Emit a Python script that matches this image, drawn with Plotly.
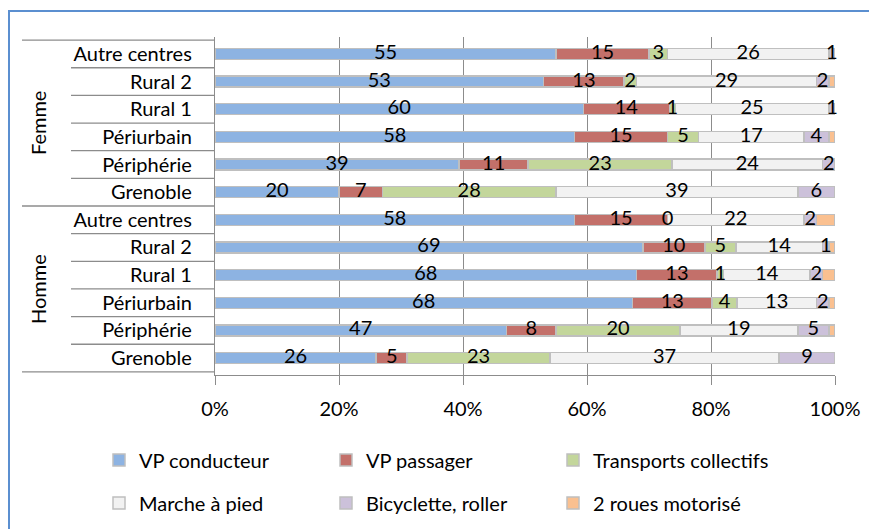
import plotly.graph_objects as go

groups = ["Femme", "Homme"]
zones = ["Autre centres", "Rural 2", "Rural 1", "Périurbain", "Périphérie", "Grenoble"]

series_names = ["VP conducteur", "VP passager", "Transports collectifs",
                "Marche à pied", "Bicyclette, roller", "2 roues motorisé"]

# rows top -> bottom : Femme (6 zones) then Homme (6 zones)
vp_conducteur = [55, 53, 60, 58, 39, 20, 58, 69, 68, 68, 47, 26]
vp_passager = [15, 13, 14, 15, 11, 7, 15, 10, 13, 13, 8, 5]
transports_collectifs = [3, 2, 1, 5, 23, 28, 0, 5, 1, 4, 20, 23]
marche_a_pied = [26, 29, 25, 17, 24, 39, 22, 14, 14, 13, 19, 37]
bicyclette = [1, 2, 1, 4, 2, 6, 2, 1, 2, 2, 5, 9]
deux_roues = [0, 1, 0, 1, 0, 0, 3, 1, 2, 1, 1, 0]

row_keys = ["%s|%s" % (g, z) for g in groups for z in zones]
row_text = [z for g in groups for z in zones]

colors = ["#8db3e2", "#c3706a", "#c3d69b", "#f2f2f2", "#ccc1da", "#fac090"]
all_series = [vp_conducteur, vp_passager, transports_collectifs,
              marche_a_pied, bicyclette, deux_roues]
show_labels = [True, True, True, True, True, False]

FONT = "Lato"
FS = 20
W, H = 877, 529
OFF = 8  # page body margin
L, R, T, B = 215 - OFF, 877 - 835 + OFF, 37 - OFF, 529 - 375 + OFF
pw, ph = W - L - R, H - T - B

legend_ids = ["legend", "legend2", "legend3", "legend4", "legend5", "legend6"]
legend_pos = [(99, 460), (326, 460), (553, 460), (99, 503), (326, 503), (553, 503)]

fig = go.Figure()
for k, (name, vals, col) in enumerate(zip(series_names, all_series, colors)):
    fig.add_trace(go.Bar(
        name=name, y=row_keys, x=vals, orientation="h",
        marker=dict(color=col, line=dict(color="#bfbfbf", width=1.5)),
        legend=legend_ids[k], hoverinfo="skip"))

# data labels drawn on top of all bars, centred in each (normalised) segment
totals = [sum(s[i] for s in all_series) for i in range(len(row_keys))]
cum = [0.0] * len(row_keys)
for k, vals in enumerate(all_series):
    mids = []
    for i, v in enumerate(vals):
        pct = v / totals[i] * 100
        mids.append(cum[i] + pct / 2)
        cum[i] += pct
    if show_labels[k]:
        fig.add_trace(go.Scatter(
            x=mids, y=row_keys, mode="text", text=[str(v) for v in vals],
            textposition="middle center", showlegend=False, hoverinfo="skip",
            cliponaxis=False,
            textfont=dict(family=FONT, size=FS, color="black")))

# convert page pixel positions (as seen in the screenshot) to paper coords
def px_x(p):
    return (p - OFF - L) / pw

def px_y(p):
    return (H - B - (p - OFF)) / ph

shapes = []
shapes.append(dict(type="rect", xref="paper", yref="paper",
                   x0=px_x(9), x1=px_x(900), y0=px_y(545), y1=px_y(11),
                   line=dict(color="#5b8fd0", width=2), fillcolor="rgba(0,0,0,0)"))
n = len(row_keys)
for i in range(n + 1):
    yv = i - 0.5
    x0 = px_x(22) if i in (0, 6, 12) else px_x(71)
    shapes.append(dict(type="line", xref="paper", yref="y", x0=x0, x1=0,
                       y0=yv, y1=yv, line=dict(color="#8c8c8c", width=1.3)))

annotations = []
for gi, g in enumerate(groups):
    annotations.append(dict(text=g, xref="paper", yref="y", x=px_x(38),
                            xanchor="center", yanchor="middle",
                            y=gi * 6 + 2.5, textangle=-90, showarrow=False,
                            font=dict(family=FONT, size=FS, color="black")))

layout_legends = {}
for lid, (lx, ly) in zip(legend_ids, legend_pos):
    layout_legends[lid] = dict(
        xref="container", yref="container", x=(lx - OFF) / W, y=1 - (ly - OFF) / H,
        xanchor="left", yanchor="middle", orientation="v",
        bgcolor="rgba(0,0,0,0)",
        font=dict(family=FONT, size=FS, color="black"))

fig.update_layout(
    width=W, height=H,
    margin=dict(l=L, r=R, t=T, b=B, autoexpand=False),
    barmode="stack", barnorm="percent", bargap=0.6,
    plot_bgcolor="white", paper_bgcolor="white",
    font=dict(family=FONT, size=FS, color="black"),
    xaxis=dict(range=[0, 100], tickvals=[0, 20, 40, 60, 80, 100],
               ticktext=["0%", "20%", "40%", "60%", "80%", "100%"],
               showgrid=True, gridcolor="#8c8c8c", gridwidth=1.3,
               showline=True, linecolor="#8c8c8c", linewidth=1.3,
               ticks="outside", ticklen=9, tickcolor="#8c8c8c", tickwidth=1.3,
               ticklabelstandoff=7, zeroline=False, fixedrange=True,
               automargin=False),
    yaxis=dict(tickvals=row_keys, ticktext=row_text, autorange="reversed",
               showline=True, linecolor="#8c8c8c", linewidth=1.3,
               ticks="", ticklabelstandoff=18, showgrid=False, fixedrange=True,
               automargin=False),
    showlegend=True,
    shapes=shapes, annotations=annotations,
    **layout_legends,
)

fig.write_html("out.html")
